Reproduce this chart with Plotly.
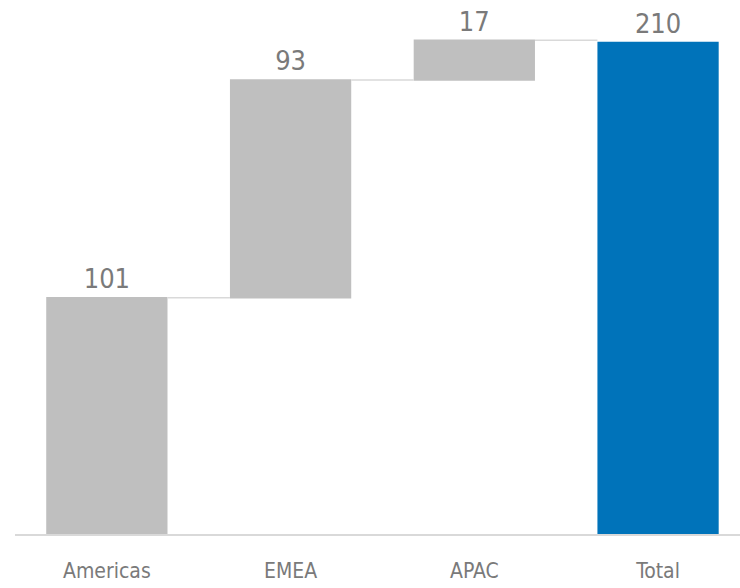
import plotly.graph_objects as go

# Regional contributions and the overall total
categories = ["Americas", "EMEA", "APAC", "Total"]
values = [101, 93, 17, 210]
measures = ["relative", "relative", "relative", "absolute"]
value_labels = ["101", "93", "17", "210"]

GREY_BAR = "#bfbfbf"
BLUE_BAR = "#0073ba"
TEXT_GREY = "#7a7a7a"
LINE_GREY = "#d9d9d9"
FONT = "DejaVu Sans Condensed, Liberation Sans Narrow, sans-serif"

fig = go.Figure(
    go.Waterfall(
        x=categories,
        y=values,
        measure=measures,
        text=value_labels,
        textposition="outside",
        textfont=dict(size=27, color=TEXT_GREY, family=FONT),
        increasing=dict(marker=dict(color=GREY_BAR, line=dict(width=0))),
        decreasing=dict(marker=dict(color=GREY_BAR, line=dict(width=0))),
        totals=dict(marker=dict(color=BLUE_BAR, line=dict(width=0))),
        connector=dict(line=dict(color=LINE_GREY, width=1.5), mode="between"),
        cliponaxis=False,
    )
)

fig.update_layout(
    width=740,
    height=588,
    margin=dict(l=15, r=0, t=0, b=54),
    paper_bgcolor="white",
    plot_bgcolor="white",
    showlegend=False,
    waterfallgap=0.34,
    font=dict(family=FONT, color=TEXT_GREY),
    xaxis=dict(
        range=[-0.5, 3.446],
        showgrid=False,
        zeroline=False,
        showline=True,
        linecolor=LINE_GREY,
        linewidth=2,
        ticks="outside",
        ticklen=17,
        tickcolor="rgba(0,0,0,0)",
        tickfont=dict(size=21, color=TEXT_GREY),
    ),
    yaxis=dict(
        range=[0, 228.2],
        visible=False,
        showgrid=False,
        zeroline=False,
    ),
)

fig.write_html("out.html")
